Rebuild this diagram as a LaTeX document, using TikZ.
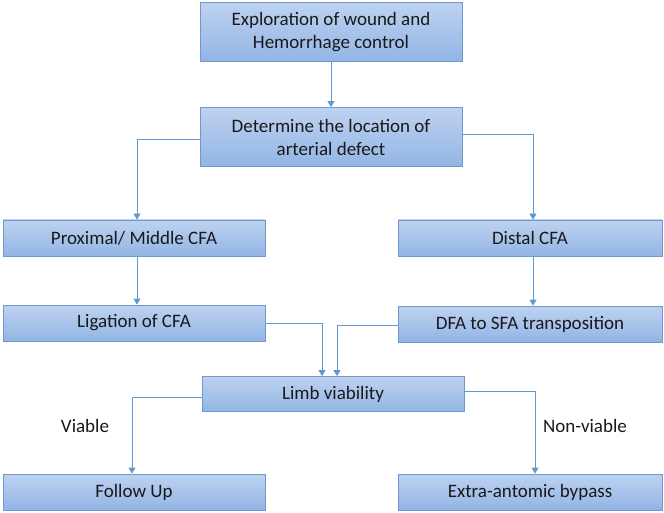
\documentclass[tikz,border=0pt]{standalone}
\usepackage{fontspec}
\setmainfont{Carlito}
\usetikzlibrary{arrows.meta}
\definecolor{boxtop}{RGB}{190,210,240}
\definecolor{boxbot}{RGB}{146,181,229}
\definecolor{boxline}{RGB}{112,152,206}
\definecolor{linkcol}{RGB}{96,152,208}
\begin{document}
\begin{tikzpicture}[x=1pt,y=-1pt,
  stepbox/.style={draw=boxline,line width=0.8pt,top color=boxtop,bottom color=boxbot,
    inner sep=0pt,align=center,font=\fontsize{19}{23}\selectfont,text=black!90},
  link/.style={draw=linkcol,line width=0.8pt,-{Triangle[width=7pt,length=6pt]}},
  lbl/.style={font=\fontsize{19}{23}\selectfont,text=black!90}]
\useasboundingbox (0,0) rectangle (664,513);
\node[stepbox,minimum width=262pt,minimum height=59pt] (expl) at (331,32) {Exploration of wound and\\Hemorrhage control};
\node[stepbox,minimum width=262pt,minimum height=59pt] (det) at (331,137) {Determine the location of\\arterial defect};
\node[stepbox,minimum width=262pt,minimum height=36pt] (prox) at (134,238) {Proximal/ Middle CFA};
\node[stepbox,minimum width=264pt,minimum height=36pt] (dist) at (530,238) {Distal CFA};
\node[stepbox,minimum width=262pt,minimum height=36pt] (lig) at (134,323) {Ligation of CFA};
\node[stepbox,minimum width=264pt,minimum height=36pt] (dfa) at (530,324) {DFA to SFA transposition};
\node[stepbox,minimum width=262pt,minimum height=35pt] (limb) at (333,394) {Limb viability};
\node[stepbox,minimum width=262pt,minimum height=36pt] (fol) at (134,492) {Follow Up};
\node[stepbox,minimum width=264pt,minimum height=36pt] (ext) at (530,492) {Extra-antomic bypass};
\node[lbl] (viab) at (85,426) {Viable};
\node[lbl] (nonv) at (585,426) {Non-viable};
\draw[link] (expl.south) -- (det.north);
\draw[link] (det.west |- 0,139) -| (prox.north -| 137,0);
\draw[link] (det.east |- 0,134) -| (dist.north -| 533,0);
\draw[link] (prox.south -| 137,0) -- (lig.north -| 137,0);
\draw[link] (dist.south -| 533,0) -- (dfa.north -| 533,0);
\draw[link] (lig.east |- 0,323) -| (limb.north -| 322,0);
\draw[link] (dfa.west |- 0,325) -| (limb.north -| 337,0);
\draw[link] (limb.west |- 0,397) -| (fol.north -| 132,0);
\draw[link] (limb.east |- 0,391) -| (ext.north -| 535,0);
\end{tikzpicture}
\end{document}
